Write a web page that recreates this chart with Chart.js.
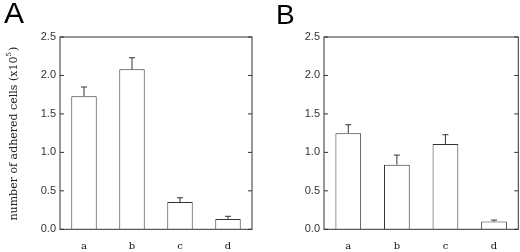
<!DOCTYPE html>
<html>
<head>
<meta charset="utf-8">
<script src="https://cdn.jsdelivr.net/npm/chart.js@4"></script>
<style>
  body { margin:0; background:#fff; }
  .panel { position:absolute; top:0; width:260px; height:252px; }
  .lbl { position:absolute; font-family:"Liberation Sans", Arial, sans-serif; color:#000; line-height:1; }
</style>
</head>
<body>
<div class="panel" style="left:0"><canvas id="chartA" width="260" height="252"></canvas></div>
<div class="panel" style="left:260px"><canvas id="chartB" width="260" height="252"></canvas></div>
<div class="lbl" style="left:4px;top:-2px;font-size:30px">A</div>
<div class="lbl" style="left:276px;top:1px;font-size:28px">B</div>
<script>
const categories = ['a', 'b', 'c', 'd'];
const valuesA = [1.73, 2.08, 0.355, 0.134];
const errorsA = [0.12, 0.15, 0.055, 0.035];
const valuesB = [1.25, 0.84, 1.11, 0.10];
const errorsB = [0.11, 0.125, 0.12, 0.02];
const yTicks = [0, 0.5, 1.0, 1.5, 2.0, 2.5];
const yTitle = 'number of adhered cells (x10';

const ink = '#333';

// frame, inward ticks on both sides, error bars (upper half only), y title
const framePlugin = {
  id: 'frame',
  afterDatasetsDraw(chart, args, opts) {
    const ctx = chart.ctx, a = chart.chartArea, y = chart.scales.y;
    ctx.save();
    ctx.strokeStyle = ink;
    ctx.lineWidth = 1;
    ctx.strokeRect(a.left, a.top, a.right - a.left, a.bottom - a.top);
    yTicks.forEach(t => {
      const py = y.getPixelForValue(t);
      ctx.beginPath();
      ctx.moveTo(a.left, py); ctx.lineTo(a.left + 4, py);
      ctx.moveTo(a.right, py); ctx.lineTo(a.right - 4, py);
      ctx.stroke();
    });
    const meta = chart.getDatasetMeta(0);
    const errs = opts.errors;
    meta.data.forEach((bar, i) => {
      const top = y.getPixelForValue(chart.data.datasets[0].data[i] + errs[i]);
      ctx.beginPath();
      ctx.moveTo(bar.x, bar.y); ctx.lineTo(bar.x, top);
      ctx.moveTo(bar.x - 3, top); ctx.lineTo(bar.x + 3, top);
      ctx.stroke();
    });
    if (opts.title) {
      ctx.translate(14, (a.top + a.bottom) / 2 + 1);
      ctx.rotate(-Math.PI / 2);
      ctx.fillStyle = '#222';
      ctx.textBaseline = 'middle';
      ctx.font = '11px "DejaVu Serif"';
      const w1 = ctx.measureText(yTitle).width;
      ctx.font = '7px "DejaVu Serif"';
      const w2 = ctx.measureText('5').width;
      ctx.font = '11px "DejaVu Serif"';
      const w3 = ctx.measureText(')').width;
      let x = -(w1 + w2 + w3) / 2;
      ctx.textAlign = 'left';
      ctx.fillText(yTitle, x, 0);
      ctx.font = '7px "DejaVu Serif"';
      ctx.fillText('5', x + w1, -5);
      ctx.font = '11px "DejaVu Serif"';
      ctx.fillText(')', x + w1 + w2 + 1, 0);
    }
    ctx.restore();
  }
};

function makeChart(id, values, errors, showTitle, yWidth, padRight) {
  new Chart(document.getElementById(id), {
    type: 'bar',
    data: {
      labels: categories,
      datasets: [{
        data: values,
        backgroundColor: '#fff',
        borderColor: ink,
        borderWidth: 1,
        barPercentage: 0.53,
        categoryPercentage: 1
      }]
    },
    options: {
      responsive: false,
      animation: false,
      layout: { padding: { top: 37, right: padRight, left: 0, bottom: 0 } },
      plugins: {
        legend: { display: false },
        tooltip: { enabled: false },
        frame: { errors: errors, title: showTitle }
      },
      scales: {
        x: {
          grid: { display: false, drawTicks: false },
          border: { display: false },
          ticks: { color: '#111', padding: 11, font: { family: 'DejaVu Serif', size: 10 } },
          afterFit(s) { s.height = 22.7; }
        },
        y: {
          min: 0, max: 2.5,
          afterBuildTicks(s) { s.ticks = yTicks.map(v => ({ value: v })); },
          grid: { display: false, drawTicks: false },
          border: { display: false },
          ticks: {
            color: '#333', padding: 4,
            font: { family: 'Liberation Sans', size: 11 },
            callback: v => v.toFixed(1)
          },
          afterFit(s) { s.width = yWidth; }
        }
      }
    },
    plugins: [framePlugin]
  });
}

makeChart('chartA', valuesA, errorsA, true, 60, 8);
makeChart('chartB', valuesB, errorsB, false, 64, 1.7);
</script>
</body>
</html>
